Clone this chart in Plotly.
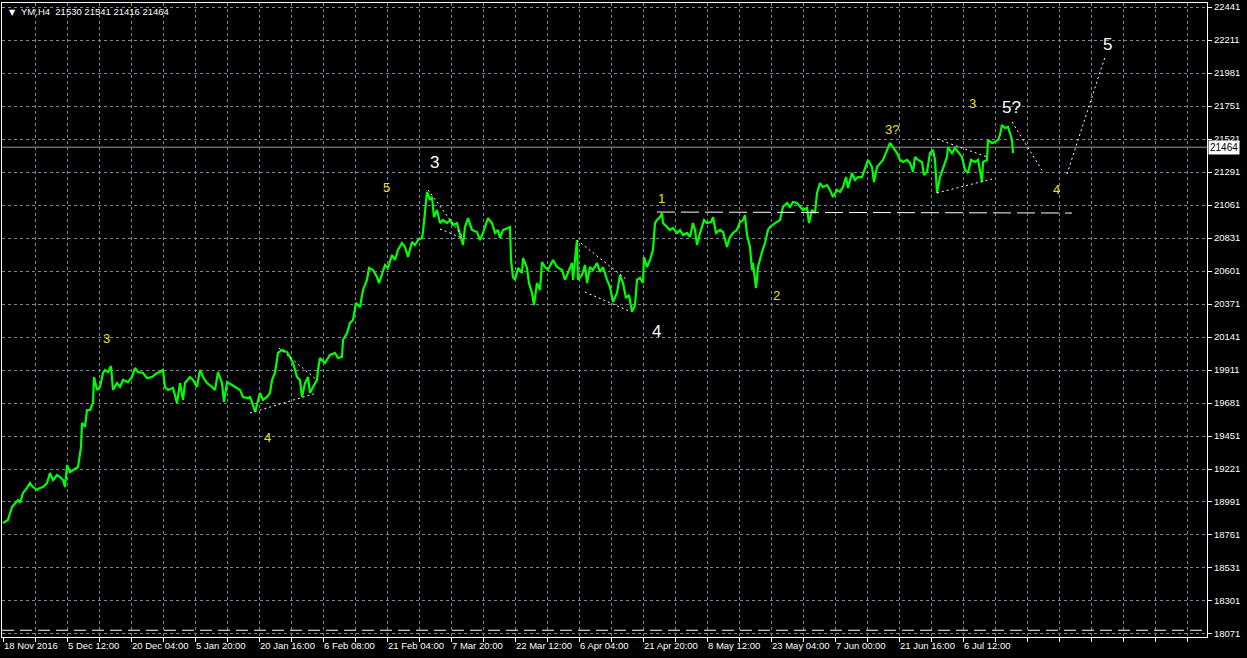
import plotly.graph_objects as go

# ---------------- data ----------------
# bar position (H4 bar index along the time axis) and closing price
bars = [3, 8, 12, 15, 18, 20, 23, 27, 30, 33, 37, 40, 43, 47, 50, 53, 57, 60, 63, 65,
        67, 70, 73, 78, 81, 82, 85, 87, 90, 93, 94, 97, 100, 103, 105, 108, 111, 113, 117, 120,
        123, 128, 132, 135, 138, 143, 147, 152, 157, 160, 163, 165, 168, 173, 177, 180, 183, 185, 190, 193,
        197, 200, 203, 207, 212, 215, 218, 222, 224, 227, 232, 237, 240, 243, 248, 250, 252, 255, 258, 260,
        263, 267, 270, 272, 275, 278, 282, 287, 290, 293, 297, 300, 302, 305, 308, 310, 313, 317, 318, 320,
        325, 330, 335, 338, 342, 343, 347, 350, 353, 356, 360, 363, 367, 369, 373, 377, 379, 382, 385, 388,
        392, 395, 398, 402, 405, 408, 412, 415, 418, 422, 423, 427, 430, 432, 434, 437, 440, 443, 447, 450,
        453, 457, 460, 463, 465, 468, 472, 477, 480, 483, 488, 492, 495, 498, 500, 503, 508, 510, 511, 513,
        515, 518, 522, 523, 527, 529, 532, 534, 537, 540, 542, 545, 548, 553, 557, 562, 565, 568, 572, 573,
        577, 578, 582, 585, 587, 590, 593, 597, 600, 603, 607, 610, 613, 617, 620, 623, 626, 629, 632, 635,
        637, 640, 643, 644, 647, 650, 653, 655, 657, 660, 662, 663, 667, 670, 673, 677, 680, 683, 687, 690,
        693, 695, 697, 700, 704, 707, 711, 713, 716, 720, 723, 727, 730, 733, 737, 740, 743, 745, 747, 750,
        752, 753, 756, 758, 762, 765, 768, 770, 775, 780, 783, 787, 790, 793, 797, 800, 803, 807, 809, 812,
        815, 817, 820, 823, 827, 830, 833, 837, 840, 843, 846, 848, 852, 855, 858, 862, 865, 868, 872, 874,
        877, 880, 883, 887, 890, 893, 897, 900, 903, 907, 910, 913, 915, 918, 922, 924, 927, 930, 933, 935,
        937, 940, 943, 947, 948, 952, 955, 958, 962, 965, 968, 971, 975, 978, 982, 983, 987, 988, 992, 995,
        998, 1000, 1002, 1005, 1008, 1010, 1012, 1013]

close = [18845, 18866, 18956, 18984, 19005, 18984, 19054, 19089, 19123, 19095, 19075, 19089, 19095, 19123, 19193, 19144, 19179, 19165, 19144, 19095,
         19249, 19200, 19214, 19235, 19374, 19542, 19514, 19632, 19632, 19681, 19862, 19772, 19793, 19890, 19911, 19897, 19939, 19772, 19820, 19793,
         19841, 19827, 19862, 19925, 19897, 19890, 19855, 19862, 19890, 19897, 19911, 19793, 19772, 19786, 19681, 19820, 19702, 19820, 19862, 19841,
         19793, 19911, 19862, 19820, 19793, 19772, 19897, 19820, 19688, 19827, 19806, 19786, 19772, 19723, 19716, 19723, 19688, 19618, 19702, 19751,
         19702, 19723, 19751, 19841, 19890, 20030, 20050, 20036, 20002, 19960, 19862, 19841, 19723, 19820, 19862, 19751, 19793, 19841, 19911, 19995,
         19960, 20016, 20030, 19995, 20002, 20120, 20169, 20239, 20260, 20378, 20350, 20469, 20539, 20622, 20608, 20559, 20517, 20587, 20643, 20622,
         20713, 20678, 20748, 20796, 20768, 20699, 20803, 20782, 20817, 20831, 20873, 21152, 21096, 21117, 20977, 21026, 20935, 20956, 20935, 20956,
         20921, 20935, 20866, 20782, 20908, 20970, 20887, 20873, 20817, 20866, 20970, 20935, 20866, 20887, 20831, 20887, 20901, 20908, 20678, 20559,
         20539, 20622, 20587, 20692, 20622, 20517, 20448, 20364, 20517, 20469, 20664, 20629, 20608, 20678, 20629, 20608, 20539, 20587, 20657, 20539,
         20817, 20539, 20573, 20643, 20517, 20629, 20608, 20657, 20594, 20629, 20539, 20490, 20385, 20448, 20573, 20517, 20413, 20434, 20316, 20364,
         20539, 20553, 20517, 20699, 20629, 20678, 20748, 20935, 20956, 20977, 21005, 20935, 20908, 20887, 20901, 20866, 20887, 20852, 20866, 20838,
         20935, 20887, 20782, 20866, 20956, 20935, 20942, 20977, 20866, 20887, 20873, 20768, 20838, 20866, 20887, 20942, 20956, 20991, 20852, 20768,
         20608, 20657, 20482, 20629, 20733, 20796, 20887, 20908, 20935, 20956, 21047, 21075, 21047, 21082, 21075, 21047, 21026, 21040, 20935, 21026,
         21005, 21145, 21214, 21186, 21200, 21166, 21117, 21166, 21152, 21186, 21256, 21179, 21284, 21235, 21256, 21256, 21319, 21375, 21326, 21221,
         21326, 21354, 21375, 21444, 21493, 21465, 21423, 21375, 21361, 21375, 21354, 21291, 21396, 21375, 21361, 21270, 21291, 21423, 21444, 21375,
         21145, 21256, 21319, 21396, 21465, 21423, 21458, 21430, 21396, 21305, 21284, 21375, 21361, 21375, 21221, 21361, 21375, 21514, 21493, 21500,
         21514, 21549, 21619, 21598, 21605, 21563, 21514, 21423]

date_labels = ["18 Nov 2016", "5 Dec 12:00", "20 Dec 04:00", "5 Jan 20:00", "20 Jan 16:00",
               "6 Feb 08:00", "21 Feb 04:00", "7 Mar 20:00", "22 Mar 12:00", "6 Apr 04:00",
               "21 Apr 20:00", "8 May 12:00", "23 May 04:00", "7 Jun 00:00", "21 Jun 16:00",
               "6 Jul 12:00"]

price_ticks = [18071, 18301, 18531, 18761, 18991, 19221, 19451, 19681, 19911, 20141,
               20371, 20601, 20831, 21061, 21291, 21521, 21751, 21981, 22211, 22441]

last_price = 21464
header_text = "YM,H4  21530 21541 21416 21464"

# Elliott-wave marks: text, bar, price
wave_text = ["3", "4", "5", "3", "4", "1", "2", "3?", "3", "5?", "4", "5"]
wave_bar = [106, 267, 386, 434, 656, 661, 776, 892, 972, 1011, 1056, 1107]
wave_price = [20134, 19444, 21180, 21354, 20176, 21103, 20427, 21584, 21772, 21744, 21166, 22183]
wave_major = [False, False, False, True, True, False, False, False, False, True, False, True]

# dotted trend lines: (bar0, price0, bar1, price1)
trend_lines = [
    (250, 19611, 317, 19751), (279, 20064, 317, 19841),
    (428, 21166, 462, 20845), (440, 20894, 462, 20831),
    (577, 20817, 627, 20539), (585, 20455, 631, 20316),
    (937, 21521, 987, 21396), (937, 21145, 992, 21242),
    (1012, 21640, 1043, 21291), (1067, 21277, 1105, 22093),
]
resistance_line = (657, 21012, 1072, 21005)
bottom_line_price = 18097

# ---------------- figure ----------------
X0, X1 = 2, 1207
step = 32
tick_pos = list(range(3, X1, step))
tick_txt = []
for i, _ in enumerate(tick_pos):
    if i % 2 == 0 and i // 2 < len(date_labels):
        tick_txt.append(date_labels[i // 2])
    else:
        tick_txt.append("")

fig = go.Figure()
fig.add_trace(go.Scatter(x=bars, y=close, mode="lines",
                         line=dict(color="#00ff00", width=2.2),
                         hoverinfo="skip", showlegend=False))

shapes = []
# current price line
shapes.append(dict(type="line", xref="paper", x0=0, x1=1, yref="y", y0=last_price, y1=last_price,
                   line=dict(color="#9b9b9b", width=1), layer="below"))
for (a0, p0, a1, p1) in trend_lines:
    shapes.append(dict(type="line", xref="x", yref="y", x0=a0, y0=p0, x1=a1, y1=p1,
                       line=dict(color="white", width=1, dash="2px,3px")))
ra0, rp0, ra1, rp1 = resistance_line
shapes.append(dict(type="line", xref="x", yref="y", x0=ra0, y0=rp0, x1=ra1, y1=rp1,
                   line=dict(color="white", width=1, dash="18px,6px")))
shapes.append(dict(type="line", xref="paper", yref="y", x0=0, x1=1, y0=bottom_line_price, y1=bottom_line_price,
                   line=dict(color="white", width=1, dash="12px,6px")))

annotations = []
for t, b, p, major in zip(wave_text, wave_bar, wave_price, wave_major):
    annotations.append(dict(x=b, y=p, xref="x", yref="y", text=t, showarrow=False,
                            xanchor="center", yanchor="middle",
                            font=dict(family="Liberation Sans", size=17 if major else 13,
                                      color="white" if major else "#f2e400")))
# last price label box
annotations.append(dict(x=1, y=last_price, xref="paper", yref="y", text=str(last_price),
                        showarrow=False, xanchor="left", yanchor="middle", xshift=1,
                        bgcolor="white", borderpad=1,
                        font=dict(family="Liberation Sans", size=10, color="black")))
# header
annotations.append(dict(x=0.004, y=0.995, xref="paper", yref="paper", text="▼",
                        showarrow=False, xanchor="left", yanchor="top",
                        font=dict(family="DejaVu Sans", size=8, color="white")))
annotations.append(dict(x=0.014, y=0.998, xref="paper", yref="paper", text=header_text,
                        showarrow=False, xanchor="left", yanchor="top",
                        font=dict(family="Liberation Sans", size=9.5, color="white")))

fig.update_layout(
    width=1247, height=658,
    margin=dict(l=2, r=40, t=3, b=21),
    paper_bgcolor="black", plot_bgcolor="black",
    shapes=shapes, annotations=annotations,
    showlegend=False,
    xaxis=dict(range=[X0, X1], tickmode="array", tickvals=tick_pos, ticktext=tick_txt,
               showgrid=True, gridcolor="#778899", griddash="3px,3px", gridwidth=1,
               ticks="outside", ticklen=4, tickcolor="white",
               ticklabelposition="outside right",
               tickfont=dict(family="Liberation Sans", size=9.5, color="white"),
               showline=True, linecolor="white", linewidth=1, mirror=True,
               zeroline=False, fixedrange=True),
    yaxis=dict(range=[18050, 22469], side="right", tickmode="array", tickvals=price_ticks,
               ticktext=[str(v) for v in price_ticks],
               showgrid=True, gridcolor="#778899", griddash="3px,3px", gridwidth=1,
               ticks="outside", ticklen=4, tickcolor="white",
               tickfont=dict(family="Liberation Sans", size=9.5, color="white"),
               showline=True, linecolor="white", linewidth=1, mirror=True,
               zeroline=False, fixedrange=True),
)

fig.write_html("out.html", config={"displayModeBar": False},
               post_script="document.body.style.margin='0px';document.body.style.background='black';")
